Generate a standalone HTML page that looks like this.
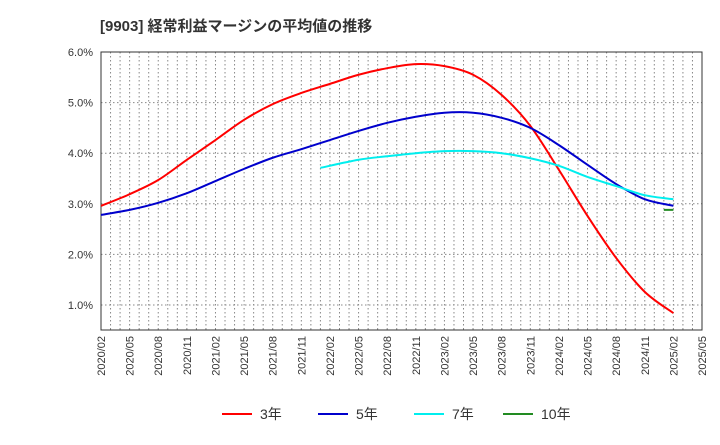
<!DOCTYPE html>
<html><head><meta charset="utf-8"><style>
body{margin:0;background:#fff;width:720px;height:440px;overflow:hidden;font-family:"Liberation Sans","Noto Sans CJK JP",sans-serif}
</style></head><body>
<svg id="c" width="720" height="440" xmlns="http://www.w3.org/2000/svg"></svg>
<script>
const xLabels=["2020/02","2020/05","2020/08","2020/11","2021/02","2021/05","2021/08","2021/11","2022/02","2022/05","2022/08","2022/11","2023/02","2023/05","2023/08","2023/11","2024/02","2024/05","2024/08","2024/11","2025/02","2025/05"];
const yTicks=[1,2,3,4,5,6];
const m3=[0,3,6,9,12,15,18,21,24,27,30,33,36,39,42,45,48,51,54,57,60];
const v3=[2.96,3.19,3.47,3.87,4.26,4.66,4.97,5.19,5.37,5.55,5.68,5.76,5.72,5.55,5.15,4.54,3.67,2.76,1.93,1.26,0.84];
const m5=m3;
const v5=[2.78,2.88,3.02,3.21,3.45,3.69,3.91,4.08,4.26,4.44,4.60,4.72,4.80,4.80,4.70,4.50,4.16,3.77,3.39,3.09,2.96];
const m7=[23,27,30,33,36,39,42,45,48,51,54,57,60];
const v7=[3.71,3.87,3.94,4.00,4.04,4.04,4.00,3.90,3.75,3.53,3.35,3.17,3.09];
const m10=[59,60];
const v10=[2.88,2.88];
const L=101,R=702,T=52,B=330;
const X=i=>L+i*(R-L)/63;
const Y=v=>T+(6-v)*50.6;
const svg=document.getElementById('c');const NS="http://www.w3.org/2000/svg";
function mk(t,a,p){const e=document.createElementNS(NS,t);for(const k in a)e.setAttribute(k,a[k]);(p||svg).appendChild(e);return e;}
let t=mk('text',{x:100,y:31,'font-size':15,'font-weight':'bold',fill:'#333'});t.textContent="[9903]  経常利益マージンの平均値の推移";

for(let i=1;i<63;i++){const l=mk('line',{x1:X(i),x2:X(i),y1:T,y2:B,stroke:'#888','stroke-dasharray':'1.5,2.5','stroke-width':1});}
yTicks.forEach(v=>{const l=mk('line',{x1:L,x2:R,y1:Y(v),y2:Y(v),stroke:'#888','stroke-dasharray':'1.5,2.5'});
const tx=mk('text',{x:L-8,y:Y(v)+4,'font-size':11,'text-anchor':'end',fill:'#333'});tx.textContent=v.toFixed(1)+"%";});
const fr=mk('rect',{x:L,y:T,width:R-L,height:B-T,fill:'none',stroke:'#333'});
xLabels.forEach((s,i)=>{const x=X(i*3);const tx=mk('text',{x:x+4,y:B+6,'font-size':11,'text-anchor':'end',fill:'#333',transform:`rotate(-90 ${x+4} ${B+6})`});tx.textContent=s;});
function path(ms,vs){const p=ms.map((m,i)=>[X(m),Y(vs[i])]);if(p.length<3)return "M"+p.map(q=>q.join(',')).join('L');let d="M"+p[0];for(let i=0;i<p.length-1;i++){const p0=p[i-1]||p[i],p1=p[i],p2=p[i+1],p3=p[i+2]||p2;d+=`C${p1[0]+(p2[0]-p0[0])/6},${p1[1]+(p2[1]-p0[1])/6} ${p2[0]-(p3[0]-p1[0])/6},${p2[1]-(p3[1]-p1[1])/6} ${p2[0]},${p2[1]}`;}return d;}
[[m3,v3,'#f00','line-3yr'],[m5,v5,'#00c','line-5yr'],[m7,v7,'#0ee','line-7yr'],[m10,v10,'#228b22','line-10yr']].forEach(s=>{const e=mk('path',{d:path(s[0],s[1]),fill:'none',stroke:s[2],'stroke-width':2});});
const leg=[["3年",'#f00',222],["5年",'#00c',318],["7年",'#0ee',414],["10年",'#228b22',503]];
leg.forEach(l=>{const g=mk('g',{});
mk('line',{x1:l[2],x2:l[2]+30,y1:414,y2:414,stroke:l[1],'stroke-width':2},g);const tx=mk('text',{x:l[2]+38,y:419,'font-size':14,fill:'#333'},g);tx.textContent=l[0];});
</script>
</body></html>
